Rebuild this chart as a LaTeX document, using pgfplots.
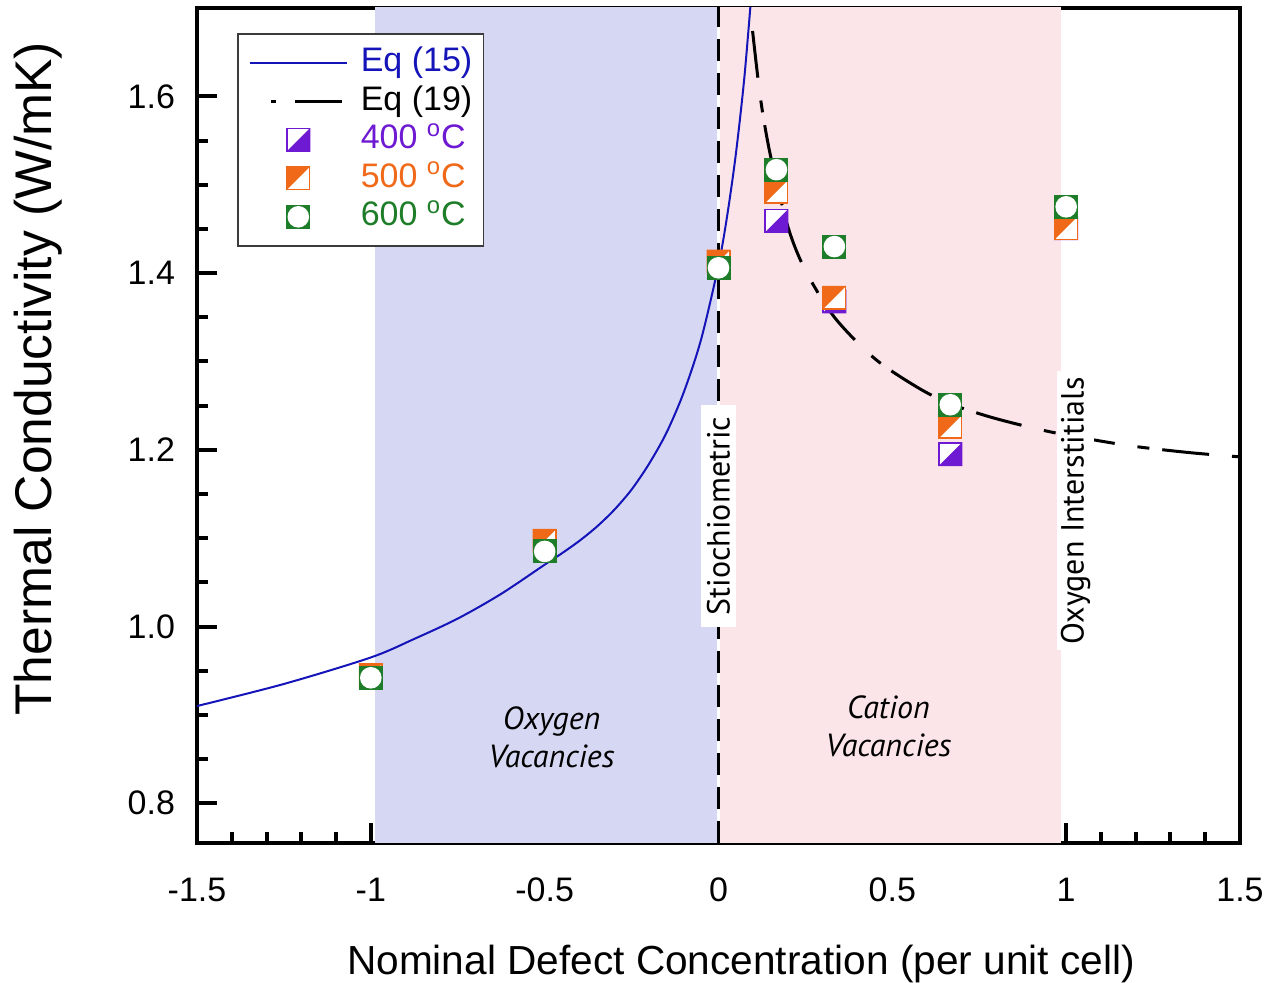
\documentclass[border=0pt]{standalone}
\usepackage{pgfplots}
\pgfplotsset{compat=1.18}
\usepackage{fontspec}
\setmainfont{Liberation Sans}
\newfontfamily\myriad{PT Sans}
\definecolor{regblue}{RGB}{214,216,243}
\definecolor{regpink}{RGB}{252,229,232}
\definecolor{cblue}{RGB}{20,20,185}
\definecolor{c400}{RGB}{110,25,210}
\definecolor{c500}{RGB}{240,105,25}
\definecolor{c600}{RGB}{30,125,40}
\definecolor{legframe}{RGB}{60,60,60}

\pgfdeclareplotmark{m400}{%
  \pgfsetfillcolor{white}%
  \pgfpathrectangle{\pgfpoint{-\pgfplotmarksize}{-\pgfplotmarksize}}{\pgfpoint{2\pgfplotmarksize}{2\pgfplotmarksize}}%
  \pgfusepathqfill
  \pgfsetfillcolor{c400}%
  \pgfpathmoveto{\pgfpoint{-\pgfplotmarksize}{-\pgfplotmarksize}}%
  \pgfpathlineto{\pgfpoint{\pgfplotmarksize}{-\pgfplotmarksize}}%
  \pgfpathlineto{\pgfpoint{\pgfplotmarksize}{\pgfplotmarksize}}%
  \pgfpathclose
  \pgfusepathqfill
  \pgfsetstrokecolor{c400}%
  \pgfsetlinewidth{0.75pt}%
  \pgfsetdash{}{0pt}%
  \pgfpathrectangle{\pgfpoint{-\pgfplotmarksize+0.375pt}{-\pgfplotmarksize+0.375pt}}{\pgfpoint{2\pgfplotmarksize-0.75pt}{2\pgfplotmarksize-0.75pt}}%
  \pgfusepathqstroke
}
\pgfdeclareplotmark{m500}{%
  \pgfsetfillcolor{white}%
  \pgfpathrectangle{\pgfpoint{-\pgfplotmarksize}{-\pgfplotmarksize}}{\pgfpoint{2\pgfplotmarksize}{2\pgfplotmarksize}}%
  \pgfusepathqfill
  \pgfsetfillcolor{c500}%
  \pgfpathmoveto{\pgfpoint{-\pgfplotmarksize}{-\pgfplotmarksize}}%
  \pgfpathlineto{\pgfpoint{-\pgfplotmarksize}{\pgfplotmarksize}}%
  \pgfpathlineto{\pgfpoint{\pgfplotmarksize}{\pgfplotmarksize}}%
  \pgfpathclose
  \pgfusepathqfill
  \pgfsetstrokecolor{c500}%
  \pgfsetlinewidth{0.75pt}%
  \pgfsetdash{}{0pt}%
  \pgfpathrectangle{\pgfpoint{-\pgfplotmarksize+0.375pt}{-\pgfplotmarksize+0.375pt}}{\pgfpoint{2\pgfplotmarksize-0.75pt}{2\pgfplotmarksize-0.75pt}}%
  \pgfusepathqstroke
}
\pgfdeclareplotmark{m600}{%
  \pgfsetfillcolor{c600}%
  \pgfpathrectangle{\pgfpoint{-\pgfplotmarksize}{-\pgfplotmarksize}}{\pgfpoint{2\pgfplotmarksize}{2\pgfplotmarksize}}%
  \pgfusepathqfill
  \pgfsetfillcolor{white}%
  \pgfpathcircle{\pgfpointorigin}{0.9\pgfplotmarksize}%
  \pgfusepathqfill
}

\pgfplotsset{
  legsolid/.style={legend image code/.code={\draw[##1] (0pt,0pt) -- (48.5pt,0pt);}},
  legdash/.style={legend image code/.code={\draw[##1] (10.5pt,0pt) -- (13pt,0pt); \draw[##1] (22.5pt,0pt) -- (46pt,0pt);}},
  legmark/.style={legend image code/.code={\draw[##1] plot coordinates {(24.25pt,0pt)};}},
}

\begin{document}
\begin{tikzpicture}
\begin{axis}[
  scale only axis, width=521.5pt, height=417.5pt,
  xmin=-1.5, xmax=1.5, ymin=0.755, ymax=1.70,
  axis line style={line width=2pt},
  xtick={-1.5,-1,-0.5,0,0.5,1,1.5},
  xticklabels={-1.5,-1,-0.5,0,0.5,1,1.5},
  ytick={0.8,1.0,1.2,1.4,1.6},
  yticklabels={0.8,1.0,1.2,1.4,1.6},
  minor x tick num=4, minor y tick num=3,
  tick align=inside, xtick pos=left, ytick pos=left,
  major tick length=10pt, minor tick length=5.5pt,
  tick style={black, line width=2pt},
  ticklabel style={font=\fontsize{17}{20}\selectfont},
  xticklabel style={yshift=-14pt},
  yticklabel style={xshift=-7.5pt},
  xlabel={Nominal Defect Concentration (per unit cell)},
  xlabel style={font=\fontsize{20.3}{24}\selectfont, at={(axis description cs:0.5216,-0.158)}, anchor=base},
  ylabel={Thermal Conductivity (W/mK)},
  ylabel style={font=\fontsize{25.8}{30}\selectfont, at={(axis description cs:-0.152,0.556)}, anchor=center},
  legend style={at={(axis description cs:0.0384,0.970)}, anchor=north west,
    draw=legframe, line width=0.75pt, fill=white,
    inner xsep=5.5pt, inner ysep=6pt, row sep=2.25pt, column sep=6.5pt,
    nodes={inner sep=0pt, text height=13pt, text depth=4pt},
    font=\fontsize{17}{20}\selectfont},
  legend cell align=left,
  clip=true,
]
\addlegendimage{cblue, line width=1pt, legsolid}
\addlegendentry{\textcolor{cblue}{Eq (15)}}
\addlegendimage{black, line width=1.5pt, legdash}
\addlegendentry{Eq (19)}
\addlegendimage{only marks, mark=m400, mark size=6pt, legmark}
\addlegendentry{\textcolor{c400}{400 \textsuperscript{o}C}}
\addlegendimage{only marks, mark=m500, mark size=6pt, legmark}
\addlegendentry{\textcolor{c500}{500 \textsuperscript{o}C}}
\addlegendimage{only marks, mark=m600, mark size=6pt, legmark}
\addlegendentry{\textcolor{c600}{600 \textsuperscript{o}C}}

% shaded regions
\addplot[fill=regblue, draw=none, forget plot] coordinates {(-0.988,1.72) (-0.003,1.72)} \closedcycle;
\addplot[fill=regpink, draw=none, forget plot] coordinates {(0.004,1.72) (0.985,1.72)} \closedcycle;

% data
\addplot[only marks, mark=m400, mark size=6pt, forget plot] coordinates {
(-1,0.944) (-0.5,1.090) (0,1.407) (0.1667,1.459) (0.3333,1.368) (0.6667,1.195) (1,1.451)};
\addplot[only marks, mark=m500, mark size=6pt, forget plot] coordinates {
(-1,0.945) (-0.5,1.097) (0,1.413) (0.1667,1.492) (0.3333,1.372) (0.6667,1.226) (1,1.451)};
\addplot[only marks, mark=m600, mark size=6pt, forget plot] coordinates {
(-1,0.942) (-0.5,1.085) (0,1.406) (0.1667,1.517) (0.3333,1.430) (0.6667,1.251) (1,1.475)};

% Eq (15)
\addplot[cblue, line width=1pt, smooth, forget plot] coordinates {
(-1.5,0.910) (-1.25,0.935) (-1.0,0.965) (-0.875,0.986) (-0.75,1.009) (-0.625,1.037)
(-0.5,1.070) (-0.45,1.083) (-0.4,1.097) (-0.35,1.113) (-0.3,1.132) (-0.25,1.155)
(-0.2,1.184) (-0.15,1.219) (-0.1,1.265) (-0.05,1.325) (0,1.409) (0.025,1.465)
(0.05,1.535) (0.075,1.624) (0.1,1.742)};

% Eq (19)
\addplot[black, line width=1.5pt, smooth, forget plot, dash pattern=on 23.5pt off 11.5pt on 6pt off 6.5pt] coordinates {
(0.098,1.674) (0.121,1.597) (0.15,1.532) (0.2,1.452) (0.25,1.403) (0.3334,1.350)
(0.45,1.303) (0.575,1.270) (0.667,1.252) (0.774,1.238) (0.88,1.227) (0.984,1.218)
(1.176,1.205) (1.35,1.197) (1.5,1.192)};

% stoichiometric line
\addplot[black, line width=1.5pt, dash pattern=on 11pt off 6pt, forget plot] coordinates {(0,0.755) (0,1.70)};

\node[font=\myriad\fontsize{16}{19}\selectfont, rotate=90, fill=white, inner xsep=6pt, inner ysep=3pt] at (axis cs:0,1.125) {Stiochiometric};
\node[font=\myriad\fontsize{16}{19}\selectfont, rotate=90, fill=white, inner xsep=3pt, inner ysep=2pt] at (axis cs:1.027,1.131) {Oxygen Interstitials};
\node[font=\myriad\itshape\fontsize{16}{19}\selectfont, align=center] at (axis cs:-0.48,0.875) {Oxygen\\Vacancies};
\node[font=\myriad\itshape\fontsize{16}{19}\selectfont, align=center] at (axis cs:0.489,0.8875) {Cation\\Vacancies};
\end{axis}
\pgfresetboundingbox
\path ([shift={(-98.5pt,-69.5pt)}]current axis.south west) rectangle ([shift={(14pt,4pt)}]current axis.north east);
\end{tikzpicture}
\end{document}
